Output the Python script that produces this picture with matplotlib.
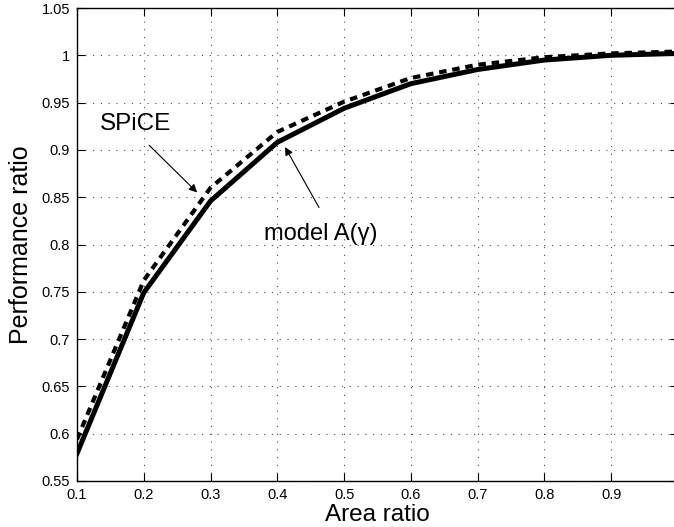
import matplotlib
matplotlib.use("Agg")
import matplotlib.pyplot as plt

# ── Data ──────────────────────────────────────────────────────────────────────
area_ratio = [0.1, 0.2, 0.3, 0.4, 0.5, 0.6, 0.7, 0.8, 0.9, 1.0]
model_perf = [0.579, 0.749, 0.846, 0.908, 0.944, 0.970, 0.985, 0.995, 1.000, 1.002]
spice_perf = [0.594, 0.762, 0.860, 0.919, 0.951, 0.976, 0.990, 0.998, 1.002, 1.004]

xticks = [0.1, 0.2, 0.3, 0.4, 0.5, 0.6, 0.7, 0.8, 0.9]
yticks = [0.55, 0.6, 0.65, 0.7, 0.75, 0.8, 0.85, 0.9, 0.95, 1.0, 1.05]
ytick_labels = ["0.55", "0.6", "0.65", "0.7", "0.75", "0.8", "0.85",
                "0.9", "0.95", "1", "1.05"]

plt.rcParams["font.family"] = ["Liberation Sans", "DejaVu Sans"]

fig = plt.figure(figsize=(6.74, 5.27), dpi=100)
# right edge of the axes runs just past the figure border
ax = fig.add_axes([0.1142, 0.0873, 0.8917, 0.8975])

ax.plot(area_ratio, model_perf, color="black", linewidth=3.6,
        solid_joinstyle="miter")
ax.plot(area_ratio, spice_perf, color="black", linewidth=3.0,
        linestyle=(0, (1.8, 1.4)))

ax.set_xlim(0.1, 1.0)
ax.set_ylim(0.55, 1.05)
ax.set_xticks(xticks)
ax.set_xticklabels([f"{v:g}" for v in xticks], fontsize=10.5)
ax.set_yticks(yticks)
ax.set_yticklabels(ytick_labels, fontsize=10.5)
ax.tick_params(direction="in", top=True, right=True, length=6, width=0.8)
ax.tick_params(axis="x", pad=5)
ax.tick_params(axis="y", pad=5)
for s in ax.spines.values():
    s.set_linewidth(1.0)

ax.grid(True, linestyle=(0, (1, 6)), color="black", linewidth=0.8, alpha=0.7)

ax.set_xlabel("Area ratio", fontsize=17.5)
ax.xaxis.set_label_coords(0.5, -0.048)
ax.set_ylabel("Performance ratio", fontsize=18, labelpad=6)

arrow = dict(arrowstyle="-|>", color="black", lw=0.8, mutation_scale=12,
             shrinkA=0, shrinkB=0)

ax.text(0.188, 0.927, "SPiCE", fontsize=17.5, ha="center", va="center")
ax.annotate("", xy=(0.280, 0.855), xytext=(0.208, 0.905), arrowprops=arrow)

ax.text(0.4655, 0.811, "model A(\u03b3)", fontsize=17, ha="center", va="center")
ax.annotate("", xy=(0.4116, 0.903), xytext=(0.4625, 0.839), arrowprops=arrow)

plt.savefig("out.png", dpi=100)
